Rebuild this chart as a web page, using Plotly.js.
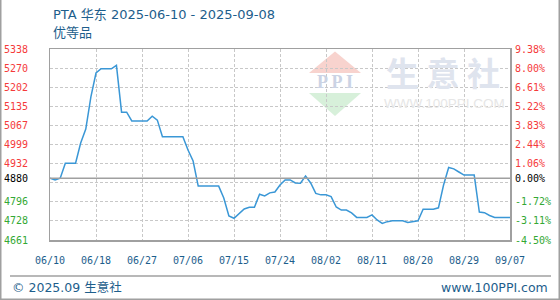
<!DOCTYPE html>
<html>
<head>
<meta charset="utf-8">
<script src="https://cdn.plot.ly/plotly-3.0.1.min.js"></script>
<style>
html,body{margin:0;padding:0;background:#fff;}
#chart{width:560px;height:300px;}
</style>
</head>
<body>
<div id="chart"></div>
<script>
// ---- data ----
const titleText = 'PTA 华东 2025-06-10 - 2025-09-08';
const subTitle = '优等品';
const xTickDays = [0, 9, 18, 27, 36, 45, 54, 63, 72, 81, 90];
const xTickLabels = ['06/10','06/18','06/27','07/06','07/15','07/24','08/02','08/11','08/20','08/29','09/07'];
const prices = [
  4880, 4874, 4880, 4933, 4933, 4933, 5005, 5054, 5168, 5253,
  5268, 5268, 5268, 5280, 5114, 5114, 5083, 5083, 5083, 5083,
  5100, 5086, 5027, 5027, 5027, 5027, 5027, 4980, 4941, 4852,
  4852, 4852, 4852, 4852, 4810, 4746, 4738, 4753, 4771, 4777,
  4777, 4823, 4817, 4828, 4831, 4856, 4874, 4874, 4863, 4862,
  4888, 4863, 4826, 4821, 4821, 4815, 4778, 4767, 4767, 4757,
  4741, 4741, 4741, 4750, 4732, 4720, 4726, 4729, 4729, 4729,
  4723, 4727, 4729, 4770, 4770, 4770, 4775, 4856, 4918, 4913,
  4902, 4891, 4891, 4891, 4760, 4758, 4748, 4741, 4741, 4741,
  4741
];
const basePrice = 4880;
const yMin = 4661, yMax = 5338;
const gridVals = [4661, 4728.7, 4796.4, 4864.1, 4931.8, 4999.5, 5067.2, 5134.9, 5202.6, 5270.3, 5338];
const labelVals = [4661, 4728.7, 4796.4, 4880, 4931.8, 4999.5, 5067.2, 5134.9, 5202.6, 5270.3, 5338];
const leftLabels = ['4661','4728','4796','4880','4932','4999','5067','5135','5202','5270','5338'];
const rightLabels = ['-4.50%','-3.11%','-1.72%','0.00%','1.06%','2.44%','3.83%','5.22%','6.61%','8.00%','9.38%'];
const footerLeft = '© 2025.09 生意社';
const footerRight = 'www.100PPI.com';
const wmChars = '生 意 社';
const wmUrl = 'WWW.100PPI.COM';
const wmLogo = 'P P I';

// ---- styling helpers ----
const RED = '#f53a3a', GREEN = '#33a833', BLACK = '#000000';
const BLUE_TXT = '#1d5e8c';
function colorFor(v){ return v > basePrice + 0.5 ? RED : (v < basePrice - 0.5 ? GREEN : BLACK); }
function colored(labels){ return labels.map((t,i)=>'<span style="color:'+colorFor(labelVals[i])+'">'+t+'</span>'); }

const L = 50, T = 49, W = 460, H = 191;
const PX = p => (p - L) / W;
const PY = p => (T + H - p) / H;

const days = prices.map((_, i) => i);

const mono = 'DejaVu Sans Mono, monospace';
const sans = 'DejaVu Sans, Noto Sans CJK SC, sans-serif';

const traces = [
  {x: days, y: prices, type: 'scatter', mode: 'lines', xaxis: 'x', yaxis: 'y',
   line: {color: '#3a97d6', width: 1.5}, hoverinfo: 'skip', showlegend: false},
  {x: days, y: prices, type: 'scatter', mode: 'lines', xaxis: 'x', yaxis: 'y2',
   line: {color: 'rgba(0,0,0,0)', width: 0}, hoverinfo: 'skip', showlegend: false},
  {x: days, y: prices, type: 'scatter', mode: 'lines', xaxis: 'x', yaxis: 'y3',
   line: {color: 'rgba(0,0,0,0)', width: 0}, hoverinfo: 'skip', showlegend: false}
];

const layout = {
  width: 560, height: 300,
  margin: {l: L, r: 560 - L - W, t: T, b: 300 - T - H, pad: 0},
  paper_bgcolor: '#ffffff', plot_bgcolor: '#ffffff',
  showlegend: false,
  xaxis: {
    range: [0, 90], tickmode: 'array', tickvals: xTickDays, ticktext: xTickLabels,
    showgrid: true, gridcolor: '#c8c8c8', griddash: '3px,2px', gridwidth: 1,
    zeroline: false, showline: true, mirror: true, linecolor: '#a0a0a0', linewidth: 1.5,
    ticks: 'outside', ticklen: 10, tickcolor: 'rgba(0,0,0,0)',
    tickfont: {family: mono, size: 10, color: BLUE_TXT}, fixedrange: true
  },
  yaxis: {
    range: [yMin, yMax], tickmode: 'array', tickvals: gridVals, showticklabels: false,
    showgrid: true, gridcolor: '#c8c8c8', griddash: '3px,2px', gridwidth: 1,
    zeroline: false, showline: true, mirror: true, linecolor: '#a0a0a0', linewidth: 1.5,
    ticks: '', fixedrange: true
  },
  yaxis2: {
    overlaying: 'y', side: 'left', anchor: 'x',
    range: [yMin, yMax], tickmode: 'array', tickvals: labelVals, ticktext: colored(leftLabels),
    showgrid: false, zeroline: false, showline: false,
    ticks: 'outside', ticklen: 19, tickcolor: 'rgba(0,0,0,0)',
    tickfont: {family: mono, size: 10}, fixedrange: true
  },
  yaxis3: {
    overlaying: 'y', side: 'right', anchor: 'x',
    range: [yMin, yMax], tickmode: 'array', tickvals: labelVals, ticktext: colored(rightLabels),
    showgrid: false, zeroline: false, showline: false,
    ticks: 'outside', ticklen: 2, tickcolor: 'rgba(0,0,0,0)',
    tickfont: {family: mono, size: 10}, fixedrange: true
  },
  shapes: [
    // watermark triangles
    {type: 'path', xref: 'paper', yref: 'paper', layer: 'below', line: {width: 0},
     fillcolor: '#f8d3ce',
     path: 'M '+PX(335)+' '+PY(51.5)+' L '+PX(361)+' '+PY(73)+' L '+PX(309)+' '+PY(73)+' Z'},
    {type: 'path', xref: 'paper', yref: 'paper', layer: 'below', line: {width: 0},
     fillcolor: '#d7f0da',
     path: 'M '+PX(309)+' '+PY(93)+' L '+PX(361)+' '+PY(93)+' L '+PX(335)+' '+PY(116)+' Z'},
    // base price line
    {type: 'line', xref: 'paper', yref: 'y', x0: 0, x1: 1, y0: basePrice, y1: basePrice,
     line: {color: '#a0a0a0', width: 1.5}},
    // footer separator
    {type: 'line', xref: 'paper', yref: 'paper', x0: PX(10), x1: PX(551), y0: PY(276), y1: PY(276),
     line: {color: '#a0a0a0', width: 1.5}},
    // outer frame (left, bottom, right)
    {type: 'path', xref: 'paper', yref: 'paper', line: {color: '#a0a0a0', width: 1.5},
     path: 'M '+PX(0.75)+' '+PY(0)+' L '+PX(0.75)+' '+PY(299.25)+' L '+PX(559.25)+' '+PY(299.25)+' L '+PX(559.25)+' '+PY(0)}
  ],
  annotations: [
    {text: wmChars, xref: 'paper', yref: 'paper', x: PX(443), y: PY(72), xanchor: 'center', yanchor: 'middle',
     showarrow: false, font: {family: 'Noto Sans CJK SC', size: 33, color: '#dfe4ee', weight: 'bold'}},
    {text: wmUrl, xref: 'paper', yref: 'paper', x: PX(444), y: PY(103), xanchor: 'center', yanchor: 'middle',
     showarrow: false, font: {family: 'Liberation Sans', size: 13.5, color: '#e6e6e6'}},
    {text: wmLogo, xref: 'paper', yref: 'paper', x: PX(335), y: PY(82), xanchor: 'center', yanchor: 'middle',
     showarrow: false, font: {family: 'Liberation Serif', size: 18, color: '#cbd3e4', weight: 'bold'}},
    {text: titleText, xref: 'paper', yref: 'paper', x: PX(50.5), y: PY(15), xanchor: 'left', yanchor: 'middle',
     showarrow: false, font: {family: sans, size: 13, color: BLUE_TXT}},
    {text: subTitle, xref: 'paper', yref: 'paper', x: PX(50.5), y: PY(33), xanchor: 'left', yanchor: 'middle',
     showarrow: false, font: {family: sans, size: 13, color: BLUE_TXT}},
    {text: footerLeft, xref: 'paper', yref: 'paper', x: PX(10), y: PY(287), xanchor: 'left', yanchor: 'middle',
     showarrow: false, font: {family: sans, size: 12.5, color: BLUE_TXT}},
    {text: footerRight, xref: 'paper', yref: 'paper', x: PX(550), y: PY(287), xanchor: 'right', yanchor: 'middle',
     showarrow: false, font: {family: sans, size: 12.5, color: BLUE_TXT}}
  ]
};

Plotly.newPlot('chart', traces, layout, {staticPlot: true, displayModeBar: false});
</script>
</body>
</html>
